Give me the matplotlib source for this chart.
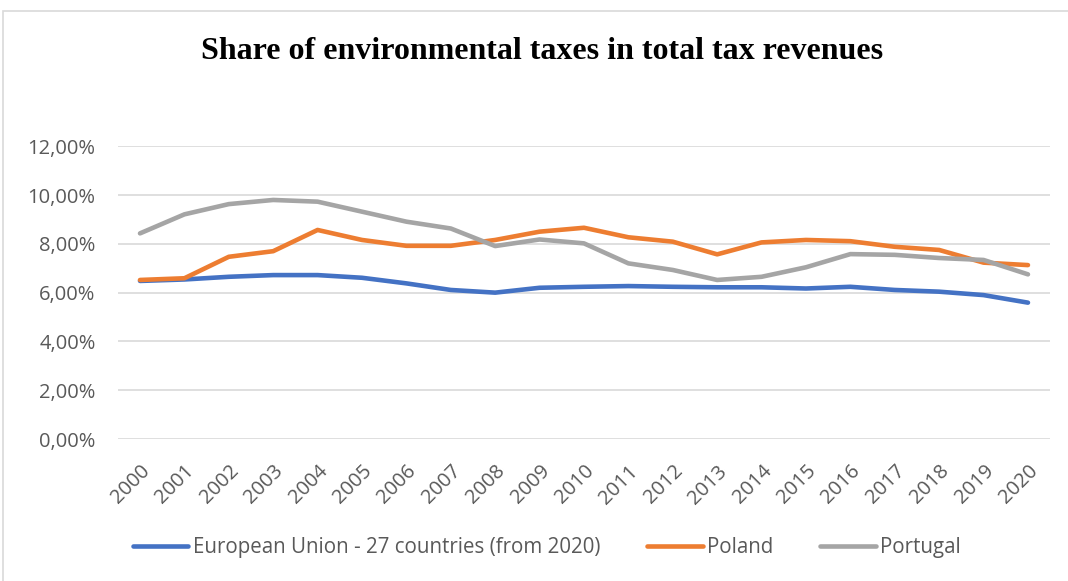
import numpy as np
import matplotlib
matplotlib.use("Agg")
import matplotlib.pyplot as plt
from matplotlib.patches import Rectangle
from matplotlib.ticker import FuncFormatter

years = [str(y) for y in range(2000, 2021)]

eu27 = [6.48, 6.54, 6.65, 6.72, 6.72, 6.61, 6.38, 6.11, 6.00, 6.20, 6.24,
        6.27, 6.24, 6.22, 6.22, 6.17, 6.24, 6.11, 6.04, 5.90, 5.59]
poland = [6.52, 6.59, 7.47, 7.70, 8.57, 8.16, 7.92, 7.92, 8.16, 8.50, 8.66,
          8.27, 8.09, 7.57, 8.06, 8.16, 8.11, 7.88, 7.75, 7.23, 7.13]
portugal = [8.43, 9.21, 9.63, 9.80, 9.73, 9.32, 8.91, 8.63, 7.91, 8.18, 8.02,
            7.20, 6.93, 6.52, 6.65, 7.04, 7.58, 7.55, 7.42, 7.34, 6.75]

series_names = ["European Union - 27 countries (from 2020)", "Poland", "Portugal"]
colors = ["#4472C4", "#ED7D31", "#A5A5A5"]

txt_grey = "#595959"
grid_grey = "#D9D9D9"
fsize = 14.5

fig = plt.figure(figsize=(10.68, 5.81), dpi=100)
ax = fig.add_axes([0.1103, 0.2444, 0.8730, 0.5038])

x = np.arange(len(years))
for vals, name, c in zip([eu27, poland, portugal], series_names, colors):
    ax.plot(x, vals, color=c, lw=3.3, label=name, solid_capstyle="round")

ax.set_xlim(-0.5, len(years) - 0.5)
ax.set_ylim(0, 12)
ax.set_yticks(np.arange(0, 13, 2))
ax.yaxis.set_major_formatter(FuncFormatter(lambda v, p: f"{v:.2f}%".replace(".", ",")))
ax.set_xticks(x)
ax.set_xticklabels(years, rotation=45, ha="right", va="top", rotation_mode="anchor")

ax.grid(axis="y", color=grid_grey, lw=1.2)
ax.set_axisbelow(True)
for s in ax.spines.values():
    s.set_visible(False)
ax.tick_params(length=0, colors=txt_grey, labelsize=fsize)
ax.tick_params(axis="y", pad=16)
ax.tick_params(axis="x", pad=16)
for lbl in ax.get_xticklabels() + ax.get_yticklabels():
    lbl.set_fontfamily("Open Sans")

fig.text(0.508, 0.912, "Share of environmental taxes in total tax revenues",
         ha="center", va="center", fontsize=23, fontweight="bold",
         family="Liberation Serif")

leg = fig.legend(loc="center", bbox_to_anchor=(0.512, 0.057), ncol=3, frameon=False,
                 prop={"family": "Open Sans", "size": 14.8}, handlelength=2.7,
                 handletextpad=0.2, columnspacing=2.3)
for t in leg.get_texts():
    t.set_color(txt_grey)

# outer chart frame
fig.patches.append(Rectangle((0.003, -0.05), 1.2, 1.031, transform=fig.transFigure,
                             fill=False, edgecolor=grid_grey, lw=1.2))

fig.savefig("out.png", dpi=100)
